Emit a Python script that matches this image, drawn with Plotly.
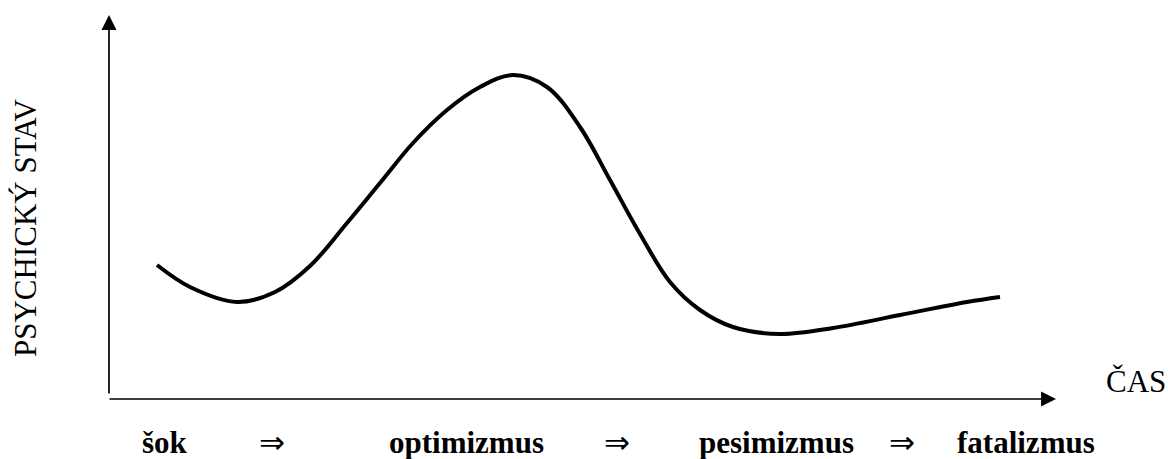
import plotly.graph_objects as go

# Curve (time vs. psychological state, arbitrary units)
cas = [49, 82, 129, 167, 202, 239, 272, 305, 339, 372, 405, 439, 472, 502,
       532, 562, 592, 625, 672, 725, 792, 859, 892]
stav = [134, 112, 97, 107, 133, 176, 216, 256, 289, 312, 324, 312, 272, 219,
        165, 117, 89, 72, 65, 71, 84, 97, 102]

# Phase labels under the time axis
phases = ["šok", "⇒", "optimizmus", "⇒", "pesimizmus", "⇒", "fatalizmus"]
phase_pos = [32, 149, 279, 494, 589, 779, 847]
phase_bold = [True, False, True, False, True, False, True]

x_title = "ČAS"
y_title = "PSYCHICKÝ STAV"

# axis extents (data units)
X_END = 948
Y_END = 384

FONT = "Times New Roman"

fig = go.Figure()
fig.add_trace(go.Scatter(
    x=cas, y=stav, mode="lines",
    line=dict(color="black", width=4, shape="spline", smoothing=1.0),
    hoverinfo="skip", showlegend=False,
))

annotations = []
annotations.append(dict(x=X_END, y=0, ax=0, ay=0, xref="x", yref="y",
                        axref="x", ayref="y", text="", showarrow=True,
                        arrowhead=2, arrowwidth=1.7, arrowsize=1.76,
                        arrowcolor="black", standoff=0, startstandoff=0))
annotations.append(dict(x=1, y=Y_END, ax=1, ay=4, xref="x", yref="y",
                        axref="x", ayref="y", text="", showarrow=True,
                        arrowhead=2, arrowwidth=1.7, arrowsize=1.76,
                        arrowcolor="black", standoff=0, startstandoff=0))

annotations.append(dict(x=1028, y=17.5, xref="x", yref="y", text=x_title,
                        showarrow=False, xanchor="center", yanchor="middle",
                        font=dict(family=FONT, size=31, color="black")))
annotations.append(dict(x=-83, y=171, xref="x", yref="y", text=y_title,
                        showarrow=False, textangle=-90,
                        xanchor="center", yanchor="middle",
                        font=dict(family=FONT, size=31, color="black")))

for lab, pos, b in zip(phases, phase_pos, phase_bold):
    annotations.append(dict(x=pos, y=-43, xref="x", yref="y",
                            text=f"<b>{lab}</b>" if b else lab,
                            showarrow=False, xanchor="left", yanchor="middle",
                            font=dict(family=FONT, size=31, color="black")))

fig.update_layout(
    width=1168, height=459,
    margin=dict(l=0, r=0, t=0, b=0),
    paper_bgcolor="white", plot_bgcolor="white",
    xaxis=dict(range=[-108, 1060], visible=False, fixedrange=True),
    yaxis=dict(range=[-60, 399], visible=False, fixedrange=True),
    annotations=annotations,
    showlegend=False,
)

fig.write_html("out.html", config={"displayModeBar": False},
               post_script="document.body.style.margin='0';document.body.style.overflow='hidden';")
